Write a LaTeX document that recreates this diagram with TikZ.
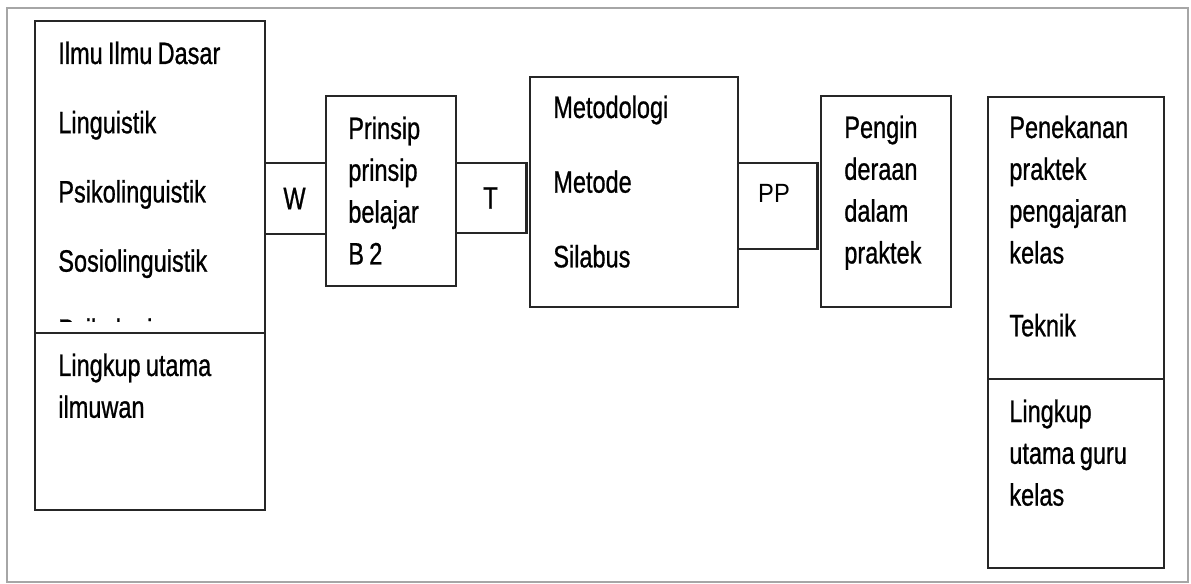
\documentclass[tikz,border=0pt]{standalone}
\usepackage{fontspec}
\setmainfont[FakeStretch=0.76, FakeBold=0.8]{Liberation Sans}
\newfontfamily\ppfont[FakeStretch=0.9]{Liberation Sans}
\newcommand\rapat{\spaceskip=0.17em plus 0.05em\relax}
\tikzset{
    kotak/.style={draw=black!85, line width=1.2pt, rectangle, inner sep=0pt, anchor=north west},
    garis/.style={draw=black!85, line width=1.2pt},
    teks/.style={anchor=base west, inner sep=0pt, text width=4cm, align=left, font=\fontsize{17.6}{23.8}\selectfont},
    label/.style={inner sep=0pt, font=\fontsize{17.6}{20}\selectfont}
}
\begin{document}
\begin{tikzpicture}[x=0.02cm,y=-0.02cm]
		\useasboundingbox (0,0) rectangle (1191,584);
		\draw[gray!70, line width=0.6pt] (7,8) rectangle (1188,582);

		\node[kotak, minimum width=4.6cm, minimum height=9.78cm] (dasar) at (34,20) {};
		\node[kotak, minimum width=2.6cm, minimum height=3.8cm] (prinsip) at (325,95) {};
		\node[kotak, minimum width=4.16cm, minimum height=4.6cm] (metodologi) at (529,76) {};
		\node[kotak, minimum width=2.6cm, minimum height=4.22cm] (pengin) at (820,95) {};
		\node[kotak, minimum width=3.52cm, minimum height=9.42cm] (guru) at (987,96) {};

		\draw[garis] (dasar.west |- 0,333) -- (dasar.east |- 0,333);
		\draw[garis] (guru.west |- 0,379) -- (guru.east |- 0,379);

		% penghubung
		\coordinate (tR) at ([xshift=-0.05cm]metodologi.west);
		\coordinate (ppR) at ([xshift=-0.05cm]pengin.west);
		\draw[garis] (dasar.east |- 0,163) -- (prinsip.west |- 0,163);
		\draw[garis] (dasar.east |- 0,234) -- (prinsip.west |- 0,234);
		\draw[garis] (prinsip.east |- 0,163) -- (tR |- 0,163) -- (tR |- 0,233) -- (prinsip.east |- 0,233);
		\draw[garis] (metodologi.east |- 0,163) -- (ppR |- 0,163) -- (ppR |- 0,249) -- (metodologi.east |- 0,249);
		\node[label] (w) at (294.5,198.5) {W};
		\node[label] (t) at (490.5,198) {T};
		\node[label, font=\ppfont\fontsize{15}{18}\selectfont] (pp) at (774,193) {PP};

		\begin{scope}
		\clip (34,20) rectangle (264,322);
		\node[teks, font=\fontsize{17.6}{39.4}\selectfont] (ilmu) at (58,64) {\rapat Ilmu Ilmu Dasar\\Linguistik\\Psikolinguistik\\Sosiolinguistik\\Psikologi};
		\end{scope}
		\node[teks] (ilmuwan) at (58,376) {\rapat Lingkup utama\\ilmuwan};
		\node[teks] (belajar) at (348,139) {\rapat Prinsip\\prinsip\\belajar\\B 2};
		\node[teks, font=\fontsize{17.6}{42.5}\selectfont] (metode) at (553,118) {Metodologi\\Metode\\Silabus};
		\node[teks] (praktek) at (844,138) {Pengin\\deraan\\dalam\\praktek};
		\node[teks] (penekanan) at (1009,138) {Penekanan\\praktek\\pengajaran\\kelas\\[0.62cm]Teknik};
		\node[teks] (lingkup) at (1009,422) {\rapat Lingkup\\utama guru\\kelas};
\end{tikzpicture}
\end{document}
